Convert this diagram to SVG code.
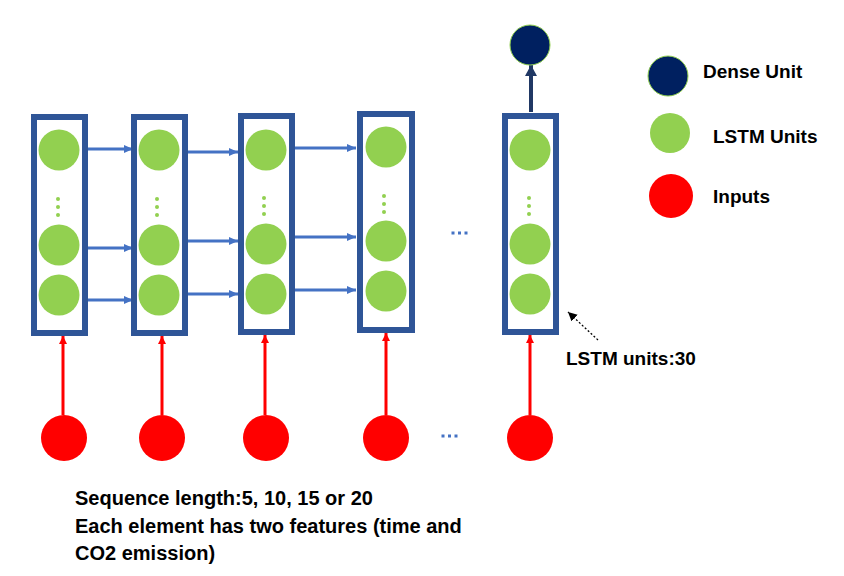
<svg xmlns="http://www.w3.org/2000/svg" width="844" height="576" viewBox="0 0 844 576">
<style>
.box{fill:none;stroke:#2F5597;stroke-width:6}
.lstm{fill:#92D050}
.inp{fill:#FF0000}
.dense{fill:#002060;stroke:#92D050;stroke-width:1}
.dot{fill:#92D050}
.bdot{fill:#4472C4}
.blue{stroke:#4472C4;stroke-width:3;fill:none;marker-end:url(#ab)}
.red{stroke:#FF0000;stroke-width:3;fill:none;marker-end:url(#ar)}
.navy{stroke:#203864;stroke-width:4;fill:none;marker-end:url(#an)}
.dash{stroke:#000;stroke-width:1.3;stroke-dasharray:2 2;fill:none;marker-end:url(#ak)}
text{font-family:"Liberation Sans",Arial,sans-serif;font-weight:bold;fill:#000}
</style>
<defs>
<marker id="ab" markerUnits="userSpaceOnUse" markerWidth="10" markerHeight="10" refX="9" refY="4" orient="auto"><path d="M0,0 L9,4 L0,8 Z" fill="#4472C4"/></marker>
<marker id="ar" markerUnits="userSpaceOnUse" markerWidth="10" markerHeight="10" refX="8" refY="4" orient="auto"><path d="M0,0 L8,4 L0,8 Z" fill="#FF0000"/></marker>
<marker id="an" markerUnits="userSpaceOnUse" markerWidth="14" markerHeight="14" refX="11" refY="6" orient="auto"><path d="M0,0 L11,6 L0,12 Z" fill="#203864"/></marker>
<marker id="ak" markerUnits="userSpaceOnUse" markerWidth="12" markerHeight="12" refX="9" refY="4.5" orient="auto"><path d="M0,0 L9,4.5 L0,9 Z" fill="#000"/></marker>
</defs>

<g id="connectors">
<line class="blue" x1="88" y1="149" x2="133" y2="149"/>
<line class="blue" x1="88" y1="248" x2="133" y2="248"/>
<line class="blue" x1="88" y1="300" x2="133" y2="300"/>
<line class="blue" x1="188" y1="152" x2="238" y2="152"/>
<line class="blue" x1="188" y1="241" x2="238" y2="241"/>
<line class="blue" x1="188" y1="294" x2="238" y2="294"/>
<line class="blue" x1="295" y1="148" x2="356" y2="148"/>
<line class="blue" x1="295" y1="237" x2="356" y2="237"/>
<line class="blue" x1="295" y1="290" x2="356" y2="290"/>
<line class="red" x1="63" y1="415" x2="63" y2="336"/>
<line class="red" x1="162" y1="415" x2="162" y2="336"/>
<line class="red" x1="265" y1="415" x2="265" y2="335"/>
<line class="red" x1="386" y1="415" x2="386" y2="333"/>
<line class="red" x1="530" y1="415" x2="530" y2="335"/>
<line class="navy" x1="531" y1="112" x2="531" y2="65"/>
<line class="dash" x1="598" y1="340" x2="568" y2="312"/>
</g>

<g id="col1">
<rect class="box" x="34" y="117" width="51" height="216"/>
<circle class="lstm" cx="59" cy="150" r="20.5"/>
<circle class="dot" cx="58" cy="199" r="2"/><circle class="dot" cx="58" cy="207" r="2"/><circle class="dot" cx="58" cy="215" r="2"/>
<circle class="lstm" cx="59" cy="245" r="20.5"/>
<circle class="lstm" cx="59" cy="295" r="20.5"/>
</g>
<g id="col2">
<rect class="box" x="134" y="117" width="51" height="216"/>
<circle class="lstm" cx="159" cy="150" r="20.5"/>
<circle class="dot" cx="157" cy="199" r="2"/><circle class="dot" cx="157" cy="207" r="2"/><circle class="dot" cx="157" cy="215" r="2"/>
<circle class="lstm" cx="159" cy="245" r="20.5"/>
<circle class="lstm" cx="159" cy="295" r="20.5"/>
</g>
<g id="col3">
<rect class="box" x="241" y="116" width="51" height="216"/>
<circle class="lstm" cx="266" cy="150" r="20.5"/>
<circle class="dot" cx="264" cy="198" r="2"/><circle class="dot" cx="264" cy="206" r="2"/><circle class="dot" cx="264" cy="214" r="2"/>
<circle class="lstm" cx="266" cy="244" r="20.5"/>
<circle class="lstm" cx="266" cy="294" r="20.5"/>
</g>
<g id="col4">
<rect class="box" x="360" y="114" width="52" height="216"/>
<circle class="lstm" cx="386" cy="147" r="20.5"/>
<circle class="dot" cx="384" cy="196" r="2"/><circle class="dot" cx="384" cy="204" r="2"/><circle class="dot" cx="384" cy="212" r="2"/>
<circle class="lstm" cx="386" cy="241" r="20.5"/>
<circle class="lstm" cx="386" cy="291" r="20.5"/>
</g>
<g id="col5">
<rect class="box" x="505" y="116" width="51" height="216"/>
<circle class="lstm" cx="530" cy="150" r="20.5"/>
<circle class="dot" cx="529" cy="198" r="2"/><circle class="dot" cx="529" cy="206" r="2"/><circle class="dot" cx="529" cy="214" r="2"/>
<circle class="lstm" cx="530" cy="244" r="20.5"/>
<circle class="lstm" cx="530" cy="294" r="20.5"/>
</g>

<g id="ellipsis-mid">
<rect class="bdot" x="451.5" y="231.5" width="3" height="3"/><rect class="bdot" x="458" y="231.5" width="3" height="3"/><rect class="bdot" x="464.5" y="231.5" width="3" height="3"/>
</g>
<g id="ellipsis-bottom">
<rect class="bdot" x="441.5" y="434.5" width="3" height="3"/><rect class="bdot" x="448" y="434.5" width="3" height="3"/><rect class="bdot" x="454.5" y="434.5" width="3" height="3"/>
</g>

<g id="inputs">
<circle class="inp" cx="64" cy="438" r="23"/>
<circle class="inp" cx="162" cy="438" r="23"/>
<circle class="inp" cx="266" cy="438" r="23"/>
<circle class="inp" cx="386" cy="438" r="23"/>
<circle class="inp" cx="530" cy="438" r="23"/>
</g>

<g id="dense">
<circle class="dense" cx="530" cy="45" r="20"/>
</g>

<g id="legend">
<circle class="dense" cx="668" cy="76" r="20"/>
<text x="703" y="78" font-size="19">Dense Unit</text>
<circle class="lstm" cx="670" cy="133" r="20"/>
<text x="713" y="143" font-size="19">LSTM Units</text>
<circle class="inp" cx="671" cy="196" r="22"/>
<text x="713" y="203" font-size="19">Inputs</text>
</g>

<g id="lstm-label">
<text x="566" y="365" font-size="19">LSTM units:30</text>
</g>

<g id="caption">
<text x="75" y="505" font-size="20">Sequence length:5, 10, 15 or 20</text>
<text x="75" y="533" font-size="20">Each element has two features (time and</text>
<text x="75" y="560" font-size="20">CO2 emission)</text>
</g>
</svg>
